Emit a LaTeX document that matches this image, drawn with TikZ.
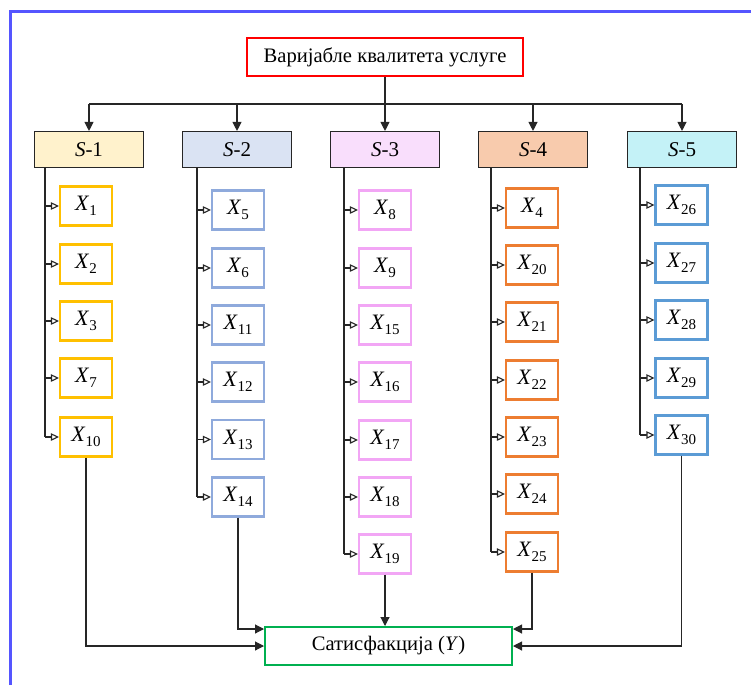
\documentclass[tikz,border=0pt]{standalone}
\usepackage{fontspec}
\setmainfont{Liberation Serif}
\usetikzlibrary{arrows.meta,calc}

\definecolor{frameblue}{HTML}{5555FF}
\definecolor{linegray}{HTML}{262626}
\definecolor{cOne}{HTML}{FFC000}
\definecolor{cTwo}{HTML}{8FAADC}
\definecolor{cThree}{HTML}{F2A6F5}
\definecolor{cFour}{HTML}{ED7D31}
\definecolor{cFive}{HTML}{5B9BD5}
\definecolor{fOne}{HTML}{FFF2CC}
\definecolor{fTwo}{HTML}{DAE3F3}
\definecolor{fThree}{HTML}{F9DEFC}
\definecolor{fFour}{HTML}{F8CBAD}
\definecolor{fFive}{HTML}{C4F2F7}
\definecolor{topred}{HTML}{FF0000}
\definecolor{satgreen}{HTML}{00B050}

% variable label: italic X with a lowered index
\newcommand{\xvar}[1]{\textit{X}\kern0.2pt\raisebox{-0.22em}{\fontsize{15}{15}\selectfont #1}}

\tikzset{
  mainbox/.style={draw, line width=2pt, minimum height=38pt, inner sep=0pt,
    font=\fontsize{20.6}{20.6}\selectfont},
  groupbox/.style={draw=linegray, line width=1.1pt, minimum width=109pt,
    minimum height=36pt, inner sep=0pt, font=\fontsize{21}{21}\selectfont},
  varbox/.style={draw, line width=2.2pt, minimum width=52pt, minimum height=39pt,
    inner sep=0pt, font=\fontsize{22}{22}\selectfont},
  conn/.style={draw=linegray, line width=1.1pt},
  fillarrow/.style={conn, -{Triangle[length=9pt,width=9pt]}},
  openarrow/.style={conn, -{Triangle[open,length=8pt,width=7.5pt,fill=white]}}
}

\begin{document}
\begin{tikzpicture}[x=1pt,y=-1pt]
\useasboundingbox (0,0) rectangle (751,685);

% outer frame
\draw[frameblue, line width=3pt] (10.5,685) -- (10.5,11.5) -- (751,11.5);

% top and bottom boxes
\node[mainbox, draw=topred, minimum width=276pt] (top) at (385,57) {Варијабле квалитета услуге};
\node[mainbox, draw=satgreen, minimum width=247pt] (sat) at (388.5,646) {Сатисфакција (\textit{Y})};

% group boxes
\node[groupbox, fill=fOne]   (S1) at (89,149.5)  {\textit{S}-1};
\node[groupbox, fill=fTwo]   (S2) at (237,149.5) {\textit{S}-2};
\node[groupbox, fill=fThree] (S3) at (385,149.5) {\textit{S}-3};
\node[groupbox, fill=fFour]  (S4) at (533,149.5) {\textit{S}-4};
\node[groupbox, fill=fFive]  (S5) at (682,149.5) {\textit{S}-5};

% distribution bus
\coordinate (busL) at (S1.north |- 0,104);
\coordinate (busR) at (S5.north |- 0,104);
\draw[conn] (busL) -- (busR);
\draw[fillarrow] (top.south) -- (S3.north);
\foreach \s in {S1,S2,S4,S5}
  \draw[fillarrow] (\s.north |- busL) -- (\s.north);

% column 1
\node[varbox, draw=cOne] (X1)  at (86,206) {\xvar{1}};
\node[varbox, draw=cOne] (X2)  at (86,264) {\xvar{2}};
\node[varbox, draw=cOne] (X3)  at (86,321) {\xvar{3}};
\node[varbox, draw=cOne] (X7)  at (86,378) {\xvar{7}};
\node[varbox, draw=cOne] (X10) at (86,437) {\xvar{10}};

% column 2
\node[varbox, draw=cTwo] (X5)  at (238,210)   {\xvar{5}};
\node[varbox, draw=cTwo] (X6)  at (238,268)   {\xvar{6}};
\node[varbox, draw=cTwo] (X11) at (238,325)   {\xvar{11}};
\node[varbox, draw=cTwo] (X12) at (238,382)   {\xvar{12}};
\node[varbox, draw=cTwo] (X13) at (238,439.5) {\xvar{13}};
\node[varbox, draw=cTwo] (X14) at (238,497)   {\xvar{14}};

% column 3
\node[varbox, draw=cThree] (X8)  at (385,210) {\xvar{8}};
\node[varbox, draw=cThree] (X9)  at (385,268) {\xvar{9}};
\node[varbox, draw=cThree] (X15) at (385,325) {\xvar{15}};
\node[varbox, draw=cThree] (X16) at (385,382) {\xvar{16}};
\node[varbox, draw=cThree] (X17) at (385,440) {\xvar{17}};
\node[varbox, draw=cThree] (X18) at (385,497) {\xvar{18}};
\node[varbox, draw=cThree] (X19) at (385,554) {\xvar{19}};

% column 4
\node[varbox, draw=cFour] (X4)  at (532,208) {\xvar{4}};
\node[varbox, draw=cFour] (X20) at (532,265) {\xvar{20}};
\node[varbox, draw=cFour] (X21) at (532,322) {\xvar{21}};
\node[varbox, draw=cFour] (X22) at (532,380) {\xvar{22}};
\node[varbox, draw=cFour] (X23) at (532,437) {\xvar{23}};
\node[varbox, draw=cFour] (X24) at (532,494) {\xvar{24}};
\node[varbox, draw=cFour] (X25) at (532,552) {\xvar{25}};

% column 5
\node[varbox, draw=cFive] (X26) at (681.5,205) {\xvar{26}};
\node[varbox, draw=cFive] (X27) at (681.5,263) {\xvar{27}};
\node[varbox, draw=cFive] (X28) at (681.5,320) {\xvar{28}};
\node[varbox, draw=cFive] (X29) at (681.5,378) {\xvar{29}};
\node[varbox, draw=cFive] (X30) at (681.5,435) {\xvar{30}};

% column spines and branches
\coordinate (L1) at ($(S1.south west)+(11,0)$);
\coordinate (L2) at ($(S2.south west)+(15,0)$);
\coordinate (L3) at ($(S3.south west)+(14,0)$);
\coordinate (L4) at ($(S4.south west)+(13,0)$);
\coordinate (L5) at ($(S5.south west)+(13,0)$);

\draw[conn] (L1) -- (L1 |- X10.west);
\foreach \x in {X1,X2,X3,X7,X10}
  \draw[openarrow] (L1 |- \x.west) -- (\x.west);

\draw[conn] (L2) -- (L2 |- X14.west);
\foreach \x in {X5,X6,X11,X12,X13,X14}
  \draw[openarrow] (L2 |- \x.west) -- (\x.west);

\draw[conn] (L3) -- (L3 |- X19.west);
\foreach \x in {X8,X9,X15,X16,X17,X18,X19}
  \draw[openarrow] (L3 |- \x.west) -- (\x.west);

\draw[conn] (L4) -- (L4 |- X25.west);
\foreach \x in {X4,X20,X21,X22,X23,X24,X25}
  \draw[openarrow] (L4 |- \x.west) -- (\x.west);

\draw[conn] (L5) -- (L5 |- X30.west);
\foreach \x in {X26,X27,X28,X29,X30}
  \draw[openarrow] (L5 |- \x.west) -- (\x.west);

% links into the outcome box
\coordinate (inL) at ($(sat.north west)+(0,3)$);
\coordinate (inR) at ($(sat.north east)+(0,3)$);
\draw[fillarrow] (X10.south) |- (sat.west);
\draw[fillarrow] (X14.south) |- (inL);
\draw[fillarrow] (X19.south) -- (sat.north -| X19.south);
\draw[fillarrow] (X25.south) |- (inR);
\draw[fillarrow] (X30.south) |- (sat.east);

\end{tikzpicture}
\end{document}
